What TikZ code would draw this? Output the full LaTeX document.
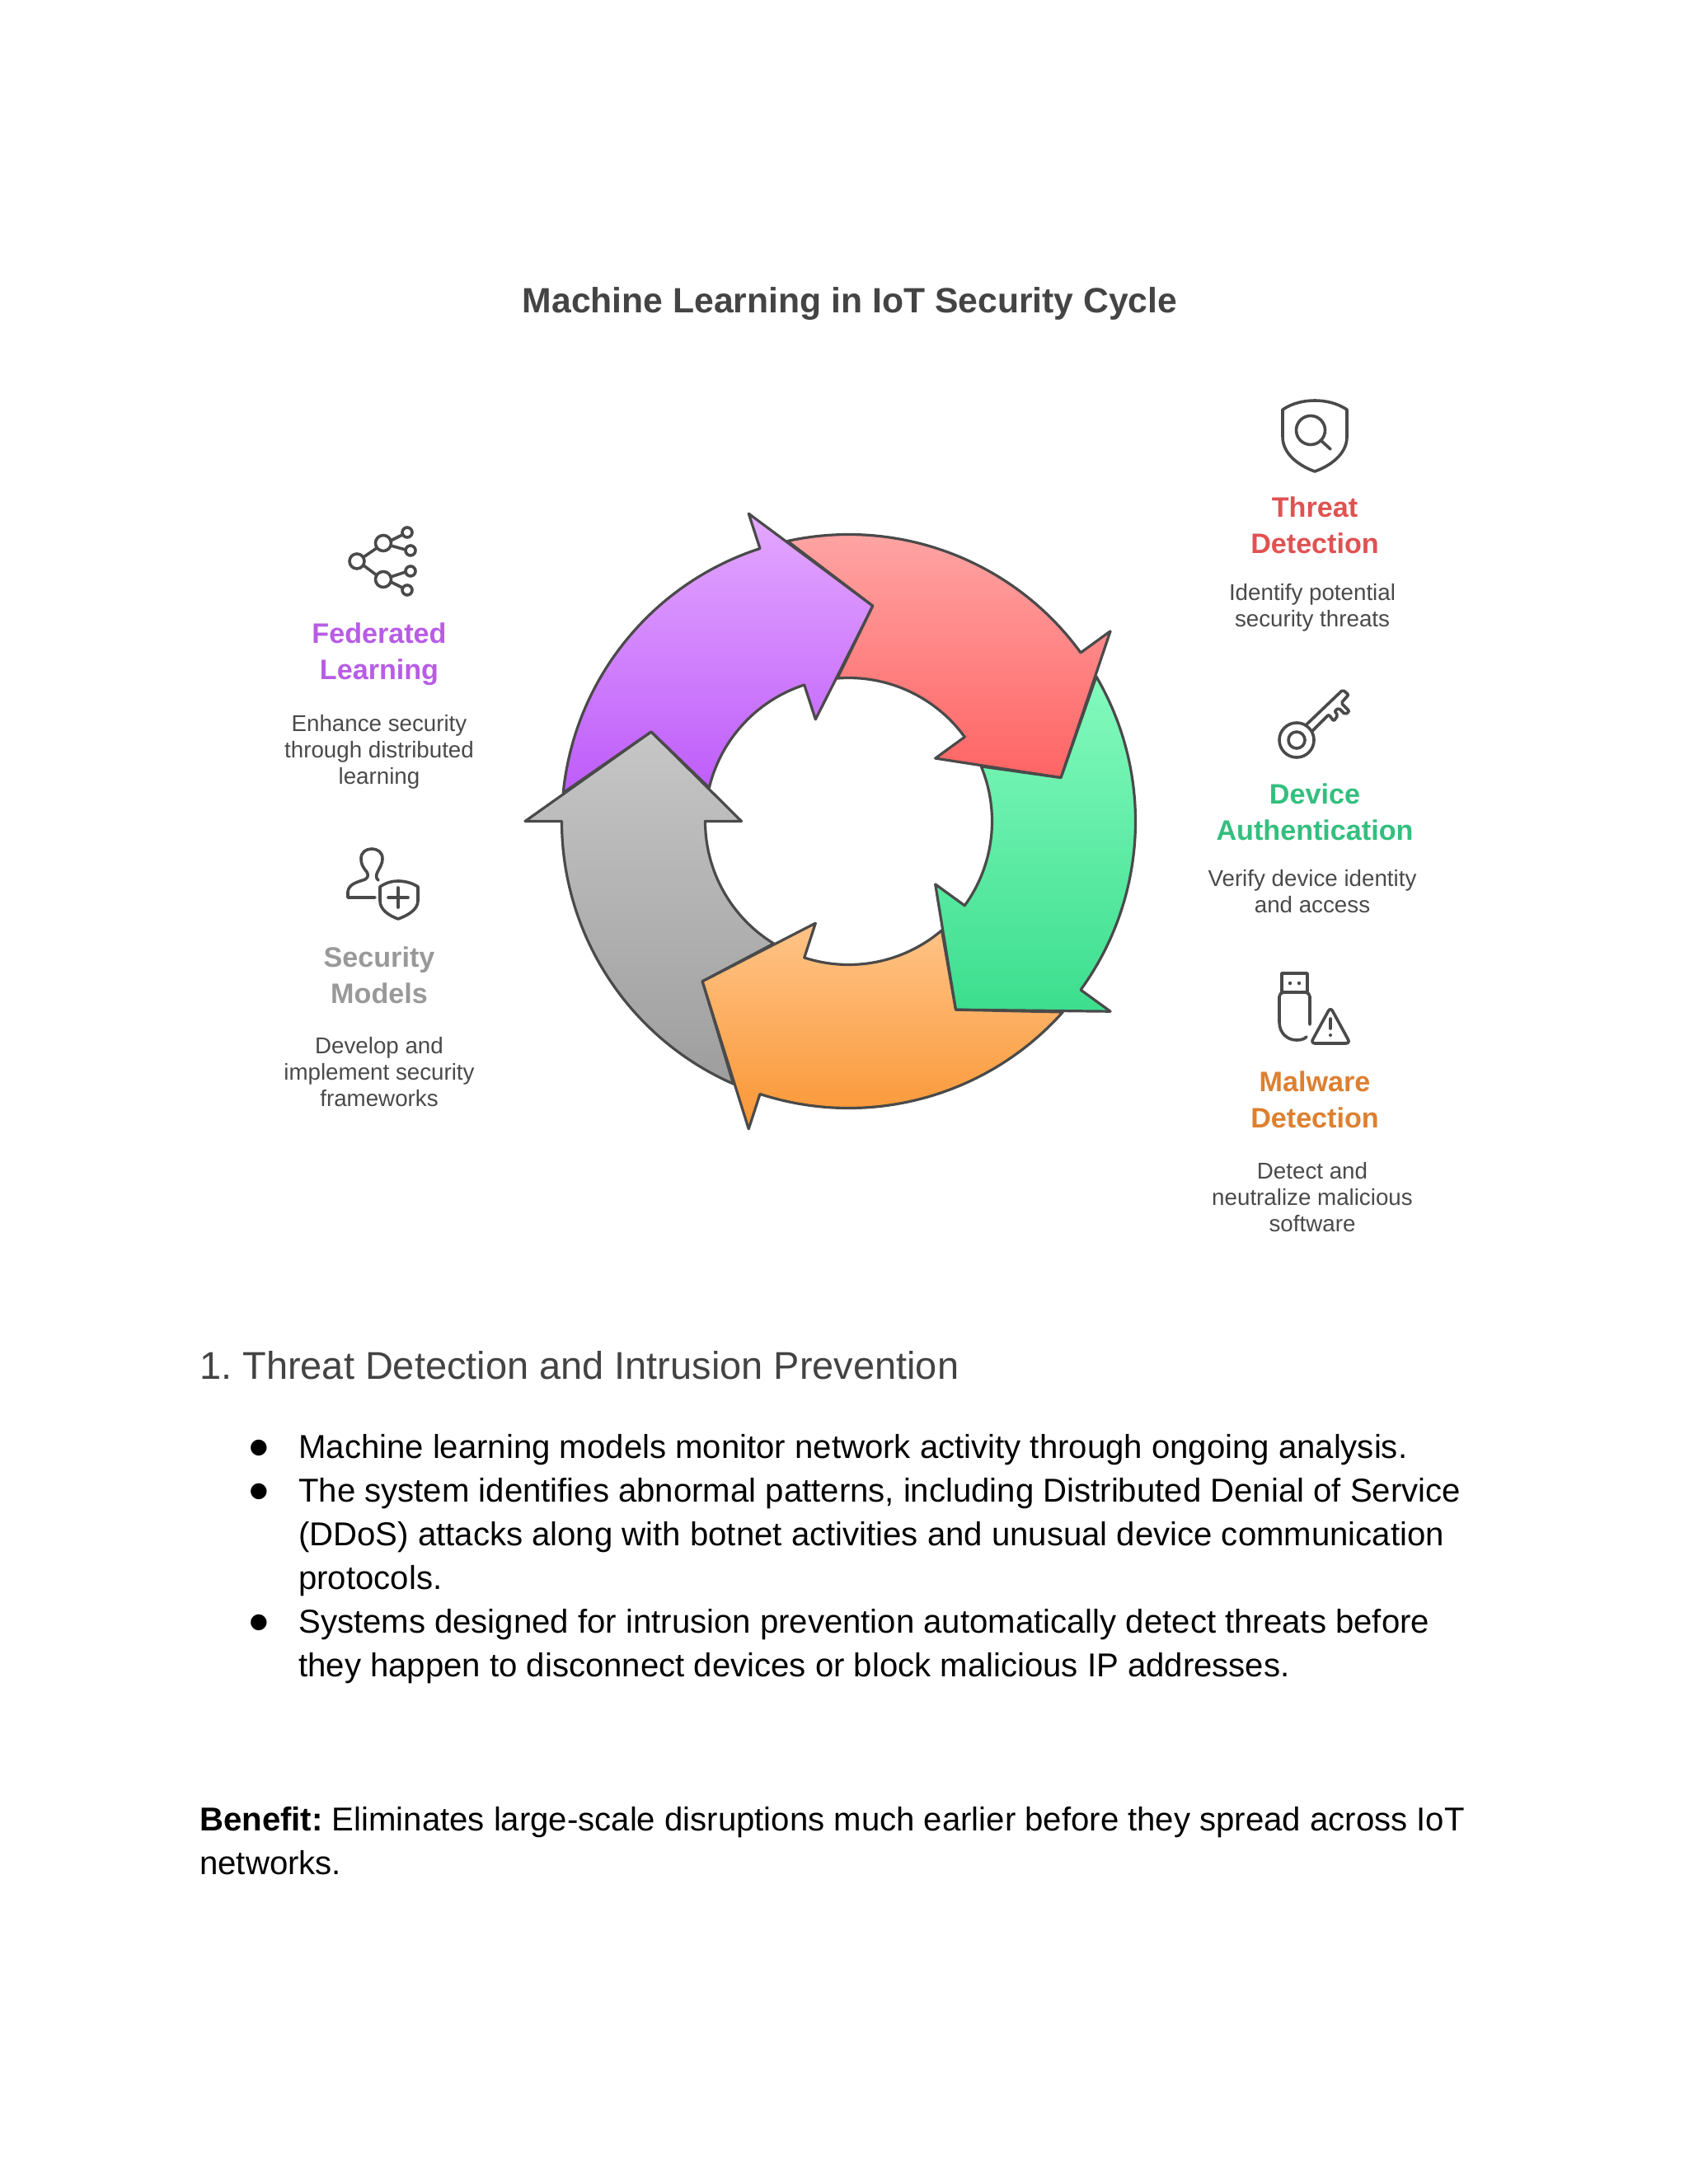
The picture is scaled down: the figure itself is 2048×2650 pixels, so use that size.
\documentclass[tikz,border=0pt]{standalone}
\usepackage{fontspec}
\setmainfont{Liberation Sans}
\newfontfamily\symfont{DejaVu Sans}
\definecolor{ink}{HTML}{4A4A4A}
\definecolor{txtdark}{HTML}{444444}
\definecolor{cRed}{HTML}{E05252}
\definecolor{cGreen}{HTML}{33BF7E}
\definecolor{cOrange}{HTML}{DD8030}
\definecolor{cPurple}{HTML}{B85CE6}
\definecolor{cGray}{HTML}{999999}
\definecolor{docHead}{HTML}{434343}
\definecolor{gTop}{HTML}{C6C6C6}\definecolor{gBot}{HTML}{9E9E9E}
\definecolor{pTop}{HTML}{E4A8FF}\definecolor{pBot}{HTML}{BE5CFA}
\definecolor{rTop}{HTML}{FFA8A8}\definecolor{rBot}{HTML}{FF6464}
\definecolor{eTop}{HTML}{84FABE}\definecolor{eBot}{HTML}{3CDE8E}
\definecolor{oTop}{HTML}{FFC488}\definecolor{oBot}{HTML}{FA9634}
\newcommand{\ringarrow}[3]{%
  \path[ringpart,top color=#2,bottom color=#3]
    ({#1+66.3}:348) arc[start angle=#1+66.3,end angle=#1,radius=348]
    -- (#1:392.5) -- ({#1-24.4}:263) -- (#1:130) -- (#1:174)
    arc[start angle=#1,end angle=#1+58.5,radius=174]
    -- ({#1+47.6}:263) -- cycle;}
\tikzset{
  ringpart/.style={draw=ink,line width=2.4pt,line join=round},
  icon/.style={draw=ink,line width=2.7pt,line cap=round,line join=round},
  headlbl/.style={font=\fontsize{25.6pt}{33pt}\selectfont\bfseries,align=center,anchor=center,inner sep=0pt},
  desclbl/.style={font=\fontsize{20.8pt}{24pt}\selectfont,text=ink,align=center,anchor=center,inner sep=0pt},
  bodytxt/.style={font=\fontsize{30.1pt}{39.75pt}\selectfont,text=black,align=left,anchor=base west,inner sep=0pt},
}
\begin{document}
\frenchspacing
\begin{tikzpicture}[x=0.75pt,y=0.75pt]
\useasboundingbox (0,0) rectangle (2048,-2650);
\fill[white] (0,0) rectangle (2048,-2650);
% ring
\begin{scope}[shift={(1029.5,-996.5)}]
\ringarrow{180}{gTop}{gBot}
\ringarrow{108}{pTop}{pBot}
\ringarrow{36}{rTop}{rBot}
\ringarrow{-36}{eTop}{eBot}
\ringarrow{-108}{oTop}{oBot}
\end{scope}
% title
\node[font=\fontsize{32pt}{38pt}\selectfont\bfseries,text=txtdark,anchor=center,inner sep=0pt] (title) at (1031,-368.5) {Machine Learning in IoT Security Cycle};
% right labels
\node[headlbl,text=cRed] (threat) at (1595,-637) {Threat\\Detection};
\node[desclbl] (threatd) at (1592,-737) {Identify potential\\security threats};
\node[headlbl,text=cGreen] (device) at (1595,-985) {Device\\Authentication};
\node[desclbl] (deviced) at (1592,-1082) {Verify device identity\\and access};
\node[headlbl,text=cOrange] (malware) at (1595,-1334) {Malware\\Detection};
\node[desclbl] (malwared) at (1592,-1453) {Detect and\\neutralize malicious\\software};
% left labels
\node[headlbl,text=cPurple] (fed) at (460,-794) {Federated\\Learning};
\node[desclbl] (fedd) at (460,-912) {Enhance security\\through distributed\\learning};
\node[headlbl,text=cGray] (sec) at (460,-1183) {Security\\Models};
\node[desclbl] (secd) at (460,-1301) {Develop and\\implement security\\frameworks};
% icon: shield with lens
\draw[icon] (1556,-497) .. controls (1568,-489) and (1582,-486) .. (1595,-486) .. controls (1608,-486) and (1622,-489) .. (1634,-497)
  -- (1634,-530) .. controls (1634,-552) and (1612,-566) .. (1595,-572) .. controls (1578,-566) and (1556,-552) .. (1556,-530) -- cycle;
\draw[icon] (1590,-522) circle[radius=17.5];
\draw[icon] (1602,-534) -- (1614,-545);
% icon: key
\draw[icon] (1573,-898) circle[radius=21];
\draw[icon] (1573,-898) circle[radius=10];
\draw[icon,rounded corners=1.5pt] (1584,-880) -- (1629,-837) -- (1636,-843) -- (1627,-853) -- (1637,-863) -- (1632,-867) -- (1624,-859) -- (1619,-863) -- (1623,-868) -- (1618,-875) -- (1612,-867) -- (1592,-887);
% icon: usb + warning
\draw[icon] (1555,-1203) -- (1555,-1181) -- (1586,-1181) -- (1586,-1203);
\fill[ink] (1565,-1193) circle[radius=2.2] (1576,-1193) circle[radius=2.2];
\draw[icon,rounded corners=4pt] (1589,-1243) -- (1589,-1204) -- (1552,-1204) -- (1552,-1240);
\draw[icon] (1552,-1240) .. controls (1552,-1254) and (1562,-1262) .. (1573,-1262) .. controls (1578,-1262) and (1582,-1261) .. (1585,-1258);
\draw[icon,rounded corners=4pt] (1614,-1222) -- (1638,-1266) -- (1590,-1266) -- cycle;
\draw[icon] (1614,-1236) -- (1614,-1248);
\fill[ink] (1614,-1256) circle[radius=2];
% icon: share tree
\draw[icon] (433,-681) circle[radius=9] (465,-659) circle[radius=9.5] (465,-703) circle[radius=9.5]
  (494,-646) circle[radius=6] (498,-668) circle[radius=6] (498,-693) circle[radius=6] (494,-716) circle[radius=6];
\draw[icon] (441,-676) -- (457,-665) (441,-686) -- (457,-698);
\draw[icon] (474,-656) -- (488,-649) (474,-662) -- (492,-667) (474,-700) -- (492,-694) (474,-706) -- (488,-713);
% icon: person + shield
\draw[icon] (455,-1089) -- (422,-1089) -- (422,-1082) .. controls (423,-1072) and (435,-1070) .. (443,-1067)
  .. controls (448,-1064) and (446,-1060) .. (445,-1058) .. controls (440,-1052) and (438,-1048) .. (438,-1042)
  .. controls (438,-1034) and (444,-1030) .. (451,-1030) .. controls (458,-1030) and (464,-1034) .. (464,-1042)
  .. controls (464,-1048) and (461,-1052) .. (458,-1058) .. controls (456,-1062) and (456,-1066) .. (459,-1068);
\draw[icon] (461,-1076) .. controls (468,-1071) and (476,-1069) .. (483,-1069) .. controls (490,-1069) and (500,-1071) .. (507,-1076)
  -- (507,-1093) .. controls (507,-1104) and (494,-1111) .. (483,-1115) .. controls (472,-1111) and (461,-1104) .. (461,-1093) -- cycle;
\draw[icon] (483,-1077) -- (483,-1101) (471,-1089) -- (495,-1089);
% document text
\node[font=\fontsize{35.2pt}{40pt}\selectfont,text=docHead,anchor=base west,inner sep=0pt] (h1) at (242,-1673) {1. Threat Detection and Intrusion Prevention};
\node[bodytxt] (t1) at (362,-1769) {Machine learning models monitor network activity through ongoing analysis.};
\node[bodytxt] (t2a) at (362,-1822) {The system identifies abnormal patterns, including Distributed Denial of Service};
\node[bodytxt] (t2b) at (362,-1875) {(DDoS) attacks along with botnet activities and unusual device communication};
\node[bodytxt] (t2c) at (362,-1928) {protocols.};
\node[bodytxt] (t3a) at (362,-1981) {Systems designed for intrusion prevention automatically detect threats before};
\node[bodytxt] (t3b) at (362,-2034) {they happen to disconnect devices or block malicious IP addresses.};
\foreach \n/\y in {b1/1757,b2/1810,b3/1969}{
  \node[font=\fontsize{19pt}{24pt}\selectfont\symfont,text=black,anchor=center,inner sep=0pt] (\n) at (314,-\y) {●};
}
\node[bodytxt] (ben1) at (242,-2221) {\textbf{Benefit:} Eliminates large-scale disruptions much earlier before they spread across IoT};
\node[bodytxt] (ben2) at (242,-2274) {networks.};
\end{tikzpicture}
\end{document}
